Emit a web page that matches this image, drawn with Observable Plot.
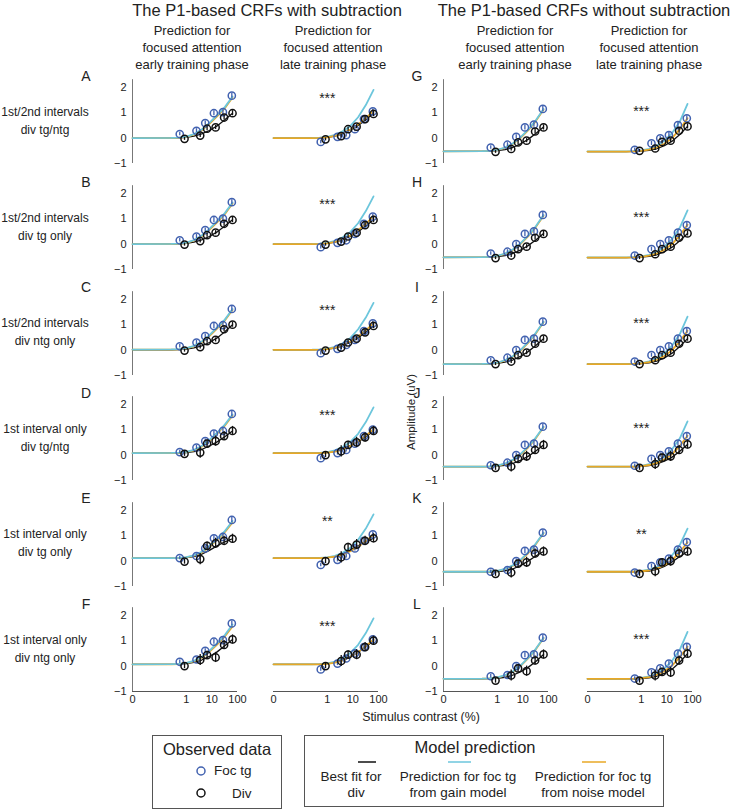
<!DOCTYPE html>
<html><head><meta charset="utf-8">
<script src="https://cdn.jsdelivr.net/npm/d3@7"></script>
<script src="https://cdn.jsdelivr.net/npm/@observablehq/plot@0.6"></script>
<style>
body{margin:0;background:#fff;}
#fig{position:relative;width:730px;height:810px;background:#fff;font-family:"Liberation Sans",Arial,sans-serif;overflow:hidden;}
</style></head><body><div id="fig"></div>
<script>
// ---------- data ----------
const rowLabels = [
  ["1st/2nd intervals","div tg/ntg"],
  ["1st/2nd intervals","div tg only"],
  ["1st/2nd intervals","div ntg only"],
  ["1st interval only","div tg/ntg"],
  ["1st interval only","div tg only"],
  ["1st interval only","div ntg only"]
];
const lettersLeft = ["A","B","C","D","E","F"];
const lettersRight = ["G","H","I","J","K","L"];
const groupTitles = ["The P1-based CRFs with subtraction","The P1-based CRFs without subtraction"];
const colHeaders = [
  ["Prediction for","focused attention","early training phase"],
  ["Prediction for","focused attention","late training phase"],
  ["Prediction for","focused attention","early training phase"],
  ["Prediction for","focused attention","late training phase"]
];
const xTicks = [0, 1, 10, 100];
const yTicks = [-1, 0, 1, 2];

// stimulus contrasts (%) of observed points (foc tg drawn slightly left of div)
const cFoc = [0.55, 2.5, 5.5, 12, 27, 60];
const cDiv = [0.85, 3.5, 6.5, 14, 30, 64];
// contrasts at which model curves are read
const cCurve = [0, 0.25, 0.5, 1, 2, 4, 8, 16, 32, 64];

// error bar half-lengths
const errFoc = [0.07, 0.08, 0.08, 0.1, 0.1, 0.1];
const errDivSmall = [0.06, 0.08, 0.08, 0.08, 0.1, 0.1];
const errDivLarge = [0.1, 0.22, 0.15, 0.2, 0.18, 0.18];

// ---- with subtraction, early ----
const focSubEarly = [
  [0.16, 0.29, 0.59, 0.98, 1.02, 1.67],
  [0.15, 0.30, 0.55, 0.95, 1.00, 1.65],
  [0.15, 0.30, 0.55, 0.95, 0.98, 1.62],
  [0.12, 0.30, 0.55, 0.85, 0.95, 1.62],
  [0.12, 0.20, 0.50, 0.90, 0.95, 1.62],
  [0.17, 0.26, 0.60, 0.96, 1.02, 1.68]
];
const divSubEarly = [
  [-0.03, 0.10, 0.37, 0.42, 0.81, 0.98],
  [-0.02, 0.12, 0.35, 0.45, 0.80, 0.95],
  [-0.02, 0.12, 0.35, 0.40, 0.82, 1.00],
  [0.05, 0.10, 0.45, 0.55, 0.75, 0.95],
  [-0.02, 0.08, 0.60, 0.70, 0.80, 0.88],
  [0.00, 0.24, 0.43, 0.34, 0.83, 1.05]
];
const gainSubEarly = [
  [0.00, 0.01, 0.02, 0.06, 0.16, 0.34, 0.60, 0.90, 1.22, 1.64],
  [0.00, 0.01, 0.02, 0.06, 0.16, 0.34, 0.60, 0.90, 1.22, 1.64],
  [0.02, 0.03, 0.04, 0.08, 0.17, 0.34, 0.59, 0.89, 1.20, 1.62],
  [0.08, 0.09, 0.10, 0.13, 0.21, 0.36, 0.60, 0.88, 1.20, 1.60],
  [0.12, 0.12, 0.13, 0.16, 0.23, 0.37, 0.60, 0.88, 1.18, 1.58],
  [0.07, 0.08, 0.09, 0.13, 0.21, 0.36, 0.60, 0.90, 1.22, 1.64]
];
const noiseSubEarly = [
  [0.00, 0.00, 0.01, 0.05, 0.14, 0.31, 0.56, 0.86, 1.18, 1.60],
  [0.00, 0.00, 0.01, 0.05, 0.14, 0.31, 0.56, 0.86, 1.18, 1.60],
  [0.02, 0.02, 0.03, 0.07, 0.15, 0.31, 0.55, 0.85, 1.17, 1.58],
  [0.08, 0.08, 0.09, 0.12, 0.19, 0.33, 0.56, 0.85, 1.16, 1.56],
  [0.12, 0.12, 0.12, 0.15, 0.21, 0.34, 0.56, 0.84, 1.14, 1.52],
  [0.07, 0.07, 0.08, 0.12, 0.19, 0.33, 0.56, 0.85, 1.17, 1.56]
];
const fitSubEarly = [
  [0.00, 0.00, 0.01, 0.03, 0.08, 0.17, 0.30, 0.48, 0.72, 0.98],
  [0.00, 0.00, 0.01, 0.03, 0.08, 0.17, 0.30, 0.48, 0.71, 0.96],
  [0.01, 0.01, 0.02, 0.04, 0.09, 0.17, 0.30, 0.48, 0.72, 1.00],
  [0.08, 0.08, 0.09, 0.10, 0.14, 0.22, 0.36, 0.52, 0.72, 0.95],
  [0.12, 0.12, 0.12, 0.14, 0.18, 0.27, 0.42, 0.60, 0.76, 0.88],
  [0.07, 0.07, 0.08, 0.10, 0.15, 0.24, 0.38, 0.56, 0.80, 1.05]
];

// ---- with subtraction, late ----
const focSubLate = [
  [-0.15, 0.05, 0.12, 0.35, 0.75, 1.05],
  [-0.12, 0.05, 0.15, 0.40, 0.80, 1.08],
  [-0.12, 0.05, 0.20, 0.40, 0.75, 1.05],
  [-0.12, 0.08, 0.20, 0.45, 0.75, 1.00],
  [-0.15, 0.05, 0.20, 0.50, 0.80, 1.05],
  [-0.13, 0.10, 0.30, 0.50, 0.75, 1.05]
];
const divSubLate = [
  [-0.05, 0.08, 0.35, 0.45, 0.75, 0.95],
  [-0.02, 0.10, 0.30, 0.45, 0.75, 0.95],
  [-0.02, 0.10, 0.30, 0.45, 0.70, 0.95],
  [0.00, 0.15, 0.40, 0.50, 0.70, 0.95],
  [0.00, 0.15, 0.55, 0.65, 0.80, 0.90],
  [0.00, 0.20, 0.45, 0.45, 0.75, 1.00]
];
const gainSubLate = [
  [0.00, 0.01, 0.02, 0.05, 0.13, 0.27, 0.48, 0.82, 1.30, 1.90],
  [0.00, 0.01, 0.02, 0.05, 0.13, 0.27, 0.48, 0.82, 1.30, 1.88],
  [0.01, 0.02, 0.03, 0.06, 0.13, 0.27, 0.48, 0.82, 1.28, 1.86],
  [0.08, 0.08, 0.09, 0.12, 0.19, 0.32, 0.52, 0.84, 1.30, 1.88],
  [0.12, 0.12, 0.13, 0.15, 0.21, 0.33, 0.53, 0.84, 1.28, 1.84],
  [0.07, 0.07, 0.08, 0.11, 0.18, 0.31, 0.52, 0.84, 1.30, 1.88]
];
const noiseSubLate = [
  [0.00, 0.00, 0.01, 0.03, 0.09, 0.19, 0.34, 0.54, 0.78, 1.08],
  [0.00, 0.00, 0.01, 0.03, 0.09, 0.19, 0.34, 0.55, 0.80, 1.10],
  [0.01, 0.01, 0.02, 0.04, 0.10, 0.19, 0.34, 0.54, 0.78, 1.06],
  [0.08, 0.08, 0.08, 0.10, 0.14, 0.22, 0.36, 0.54, 0.76, 1.02],
  [0.12, 0.12, 0.12, 0.14, 0.18, 0.26, 0.39, 0.56, 0.78, 1.04],
  [0.07, 0.07, 0.07, 0.09, 0.14, 0.22, 0.36, 0.55, 0.78, 1.05]
];
const fitSubLate = [
  [0.00, 0.00, 0.01, 0.03, 0.08, 0.17, 0.32, 0.50, 0.72, 0.98],
  [0.00, 0.00, 0.01, 0.03, 0.08, 0.17, 0.31, 0.49, 0.71, 0.96],
  [0.01, 0.01, 0.02, 0.04, 0.08, 0.17, 0.31, 0.49, 0.70, 0.96],
  [0.08, 0.08, 0.08, 0.10, 0.15, 0.24, 0.37, 0.52, 0.72, 0.95],
  [0.12, 0.12, 0.12, 0.14, 0.19, 0.29, 0.44, 0.60, 0.76, 0.90],
  [0.07, 0.07, 0.08, 0.10, 0.15, 0.25, 0.38, 0.55, 0.76, 1.00]
];

// ---- without subtraction, early ----
const focNoSubEarly = [
  [-0.37, -0.26, 0.05, 0.42, 0.53, 1.15],
  [-0.37, -0.30, 0.00, 0.40, 0.50, 1.15],
  [-0.40, -0.30, 0.00, 0.40, 0.45, 1.12],
  [-0.40, -0.30, 0.00, 0.40, 0.45, 1.12],
  [-0.42, -0.35, 0.00, 0.40, 0.45, 1.12],
  [-0.40, -0.35, 0.00, 0.43, 0.46, 1.12]
];
const divNoSubEarly = [
  [-0.54, -0.43, -0.17, -0.10, 0.26, 0.42],
  [-0.55, -0.45, -0.20, -0.10, 0.25, 0.40],
  [-0.55, -0.45, -0.20, -0.10, 0.25, 0.45],
  [-0.50, -0.45, -0.15, -0.05, 0.20, 0.40],
  [-0.50, -0.45, -0.10, -0.05, 0.30, 0.38],
  [-0.57, -0.37, -0.09, -0.20, 0.22, 0.46]
];
const gainNoSubEarly = [
  [-0.52, -0.51, -0.50, -0.46, -0.37, -0.21, 0.03, 0.33, 0.70, 1.15],
  [-0.52, -0.51, -0.50, -0.46, -0.37, -0.21, 0.03, 0.33, 0.70, 1.15],
  [-0.55, -0.54, -0.53, -0.49, -0.40, -0.24, 0.00, 0.31, 0.68, 1.12],
  [-0.45, -0.45, -0.44, -0.41, -0.33, -0.19, 0.04, 0.33, 0.69, 1.12],
  [-0.42, -0.42, -0.41, -0.38, -0.31, -0.17, 0.05, 0.34, 0.69, 1.12],
  [-0.50, -0.49, -0.48, -0.44, -0.36, -0.21, 0.02, 0.32, 0.68, 1.12]
];
const noiseNoSubEarly = [
  [-0.52, -0.51, -0.50, -0.47, -0.38, -0.23, 0.00, 0.30, 0.67, 1.12],
  [-0.52, -0.51, -0.50, -0.47, -0.38, -0.23, 0.00, 0.30, 0.67, 1.12],
  [-0.55, -0.54, -0.53, -0.50, -0.41, -0.26, -0.03, 0.28, 0.65, 1.10],
  [-0.45, -0.45, -0.44, -0.42, -0.35, -0.21, 0.01, 0.30, 0.66, 1.10],
  [-0.42, -0.42, -0.41, -0.39, -0.32, -0.19, 0.02, 0.31, 0.66, 1.10],
  [-0.50, -0.49, -0.48, -0.45, -0.37, -0.23, 0.00, 0.30, 0.66, 1.10]
];
const fitNoSubEarly = [
  [-0.52, -0.52, -0.51, -0.49, -0.45, -0.37, -0.23, -0.05, 0.18, 0.44],
  [-0.52, -0.52, -0.51, -0.49, -0.45, -0.37, -0.24, -0.06, 0.16, 0.42],
  [-0.55, -0.55, -0.54, -0.52, -0.47, -0.39, -0.25, -0.06, 0.18, 0.45],
  [-0.45, -0.45, -0.45, -0.43, -0.40, -0.33, -0.21, -0.05, 0.16, 0.40],
  [-0.42, -0.42, -0.42, -0.41, -0.38, -0.31, -0.18, 0.00, 0.20, 0.38],
  [-0.50, -0.50, -0.49, -0.48, -0.44, -0.36, -0.23, -0.05, 0.18, 0.46]
];

// ---- without subtraction, late ----
const focNoSubLate = [
  [-0.46, -0.21, -0.01, 0.12, 0.51, 0.78],
  [-0.45, -0.20, 0.00, 0.15, 0.45, 0.75],
  [-0.45, -0.20, 0.00, 0.15, 0.45, 0.75],
  [-0.42, -0.15, 0.00, 0.15, 0.45, 0.75],
  [-0.45, -0.20, -0.05, 0.10, 0.45, 0.75],
  [-0.49, -0.25, -0.09, 0.10, 0.49, 0.76]
];
const divNoSubLate = [
  [-0.50, -0.41, -0.15, -0.10, 0.29, 0.46],
  [-0.55, -0.40, -0.20, -0.10, 0.25, 0.42],
  [-0.55, -0.40, -0.20, -0.10, 0.25, 0.45],
  [-0.50, -0.35, -0.10, -0.05, 0.20, 0.42],
  [-0.50, -0.40, -0.05, 0.00, 0.30, 0.38],
  [-0.57, -0.37, -0.23, -0.25, 0.22, 0.49]
];
const gainNoSubLate = [
  [-0.52, -0.52, -0.51, -0.48, -0.42, -0.30, -0.10, 0.20, 0.65, 1.35],
  [-0.52, -0.52, -0.51, -0.48, -0.42, -0.30, -0.10, 0.20, 0.65, 1.33],
  [-0.55, -0.55, -0.54, -0.51, -0.44, -0.32, -0.12, 0.18, 0.63, 1.32],
  [-0.45, -0.45, -0.44, -0.42, -0.36, -0.25, -0.06, 0.23, 0.66, 1.33],
  [-0.42, -0.42, -0.41, -0.39, -0.34, -0.23, -0.05, 0.23, 0.64, 1.28],
  [-0.50, -0.50, -0.49, -0.46, -0.40, -0.29, -0.09, 0.21, 0.65, 1.35]
];
const noiseNoSubLate = [
  [-0.53, -0.53, -0.52, -0.50, -0.45, -0.37, -0.22, 0.00, 0.35, 0.78],
  [-0.53, -0.53, -0.52, -0.50, -0.45, -0.37, -0.22, 0.00, 0.34, 0.76],
  [-0.55, -0.55, -0.54, -0.52, -0.47, -0.38, -0.23, 0.00, 0.34, 0.76],
  [-0.45, -0.45, -0.45, -0.43, -0.39, -0.31, -0.17, 0.04, 0.36, 0.76],
  [-0.42, -0.42, -0.42, -0.40, -0.37, -0.29, -0.16, 0.04, 0.35, 0.74],
  [-0.50, -0.50, -0.49, -0.47, -0.43, -0.34, -0.20, 0.02, 0.35, 0.76]
];
const fitNoSubLate = [
  [-0.53, -0.53, -0.52, -0.51, -0.48, -0.42, -0.30, -0.12, 0.14, 0.46],
  [-0.53, -0.53, -0.52, -0.51, -0.48, -0.42, -0.30, -0.12, 0.13, 0.42],
  [-0.55, -0.55, -0.54, -0.53, -0.50, -0.43, -0.31, -0.12, 0.14, 0.45],
  [-0.45, -0.45, -0.45, -0.44, -0.41, -0.35, -0.24, -0.08, 0.15, 0.42],
  [-0.42, -0.42, -0.42, -0.41, -0.39, -0.33, -0.21, -0.03, 0.18, 0.38],
  [-0.50, -0.50, -0.50, -0.49, -0.46, -0.40, -0.29, -0.12, 0.15, 0.49]
];

const starsLate = ["***","***","***","***","**","***"];
const starsNoSubLate = ["***","***","***","***","**","***"];

// ---------- style ----------
const BLUE = "#4262b0", CYAN = "#6cc6dc", ORANGE = "#e8a826", BLACK = "#111";
const FONT = '"Liberation Sans", Arial, sans-serif';

const columns = [
  {x0:132, foc:focSubEarly, div:divSubEarly, gain:gainSubEarly, noise:noiseSubEarly, fit:fitSubEarly, yAxis:true, stars:null, orangeTop:false},
  {x0:273, foc:focSubLate, div:divSubLate, gain:gainSubLate, noise:noiseSubLate, fit:fitSubLate, yAxis:false, stars:starsLate, starY:1.55, orangeTop:true},
  {x0:443, foc:focNoSubEarly, div:divNoSubEarly, gain:gainNoSubEarly, noise:noiseNoSubEarly, fit:fitNoSubEarly, yAxis:true, stars:null, orangeTop:false},
  {x0:587, foc:focNoSubLate, div:divNoSubLate, gain:gainNoSubLate, noise:noiseNoSubLate, fit:fitNoSubLate, yAxis:false, stars:starsNoSubLate, starY:1.05, orangeTop:true}
];

const fig = document.getElementById("fig");
const Y0 = 138, ROW = 105.6, PXU = 25.4;
const ML = 30, XW = 105, YB = 88;

// overlay for text
const ns = "http://www.w3.org/2000/svg";
const over = document.createElementNS(ns, "svg");
over.setAttribute("width", 730); over.setAttribute("height", 810);
over.style.position = "absolute"; over.style.left = "0"; over.style.top = "0";
over.style.fontFamily = FONT;
fig.appendChild(over);
function txt(x, y, s, size, anchor="middle", rot=0, fill="#222") {
  const t = document.createElementNS(ns, "text");
  t.setAttribute("x", 0); t.setAttribute("y", 0);
  t.setAttribute("transform", `translate(${x},${y}) rotate(${rot})`);
  t.setAttribute("text-anchor", anchor);
  t.setAttribute("dominant-baseline", "central");
  t.setAttribute("font-size", size);
  t.setAttribute("fill", fill);
  t.textContent = s;
  over.appendChild(t);
}
function el(tag, attrs) {
  const e = document.createElementNS(ns, tag);
  for (const k in attrs) e.setAttribute(k, attrs[k]);
  over.appendChild(e);
}

// titles & headers
txt(267, 10, groupTitles[0], 16.5);
txt(584, 10, groupTitles[1], 16.5);
const hx = [192, 333, 515, 649];
colHeaders.forEach((lines, j) => lines.forEach((s, k) => txt(hx[j], 30 + 17*k, s, 13)));

for (let r = 0; r < 6; r++) {
  const y0 = Y0 + ROW*r;
  txt(86, y0 - 62, lettersLeft[r], 14);
  txt(417, y0 - 62, lettersRight[r], 14);
  txt(45, y0 - 26, rowLabels[r][0], 12);
  txt(45, y0 - 8, rowLabels[r][1], 12);
}
txt(411, 412, "Amplitude (uV)", 11.5, "middle", -90);
txt(421, 717, "Stimulus contrast (%)", 12.4);

// legend
el("rect", {x:152.5, y:735.5, width:129, height:73, fill:"none", stroke:"#555", "stroke-width":1});
el("rect", {x:304.5, y:735.5, width:359, height:71, fill:"none", stroke:"#555", "stroke-width":1});
txt(217, 749, "Observed data", 16.5);
el("circle", {cx:201, cy:771, r:4, fill:"none", stroke:BLUE, "stroke-width":1.5});
txt(214, 770, "Foc tg", 13.5, "start");
el("circle", {cx:201, cy:793, r:4, fill:"none", stroke:BLACK, "stroke-width":1.5});
txt(232, 793, "Div", 13.5, "start");
txt(475, 747, "Model prediction", 16.5);
el("line", {x1:358, x2:376, y1:762, y2:762, stroke:BLACK, "stroke-width":1.5});
el("line", {x1:448, x2:471, y1:762, y2:762, stroke:CYAN, "stroke-width":1.5});
el("line", {x1:582, x2:606, y1:762, y2:762, stroke:ORANGE, "stroke-width":1.5});
txt(351, 776, "Best fit for", 13.5); txt(356, 792, "div", 13.5);
txt(458, 776, "Prediction for foc tg", 13.5); txt(458, 792, "from gain model", 13.5);
txt(593, 776, "Prediction for foc tg", 13.5); txt(593, 792, "from noise model", 13.5);

// panels
const ymax = 2.3;
for (let r = 0; r < 6; r++) {
  const y0 = Y0 + ROW*r;
  columns.forEach((col) => {
    const foc = col.foc[r], div = col.div[r];
    const errDiv = r >= 3 ? errDivLarge : errDivSmall;
    const marks = [];
    if (col.yAxis) {
      marks.push(Plot.ruleX([0], {y1: () => -1, y2: () => ymax, stroke: "#777", strokeWidth: 1}));
      marks.push(Plot.axisY({ticks: yTicks, tickSize: 0, tickPadding: 6, fontSize: 11, fill: "#222",
        tickFormat: d => d < 0 ? "\u2212" + Math.abs(d) : String(d)}));
    }
    if (r === 5) {
      marks.push(Plot.ruleY([-1], {x1: () => 0, x2: () => 100, stroke: "#555", strokeWidth: 1}));
      marks.push(Plot.axisX({ticks: xTicks, tickSize: 0, tickPadding: 4, fontSize: 11, fill: "#222",
        tickFormat: d => String(d)}));
    }
    const fitL = Plot.line(col.fit[r], {x: (d,i) => cCurve[i], y: d => d, stroke: BLACK, strokeWidth: 1.3});
    const gainL = Plot.line(col.gain[r], {x: (d,i) => cCurve[i], y: d => d, stroke: CYAN, strokeWidth: 1.8});
    const noiseL = Plot.line(col.noise[r], {x: (d,i) => cCurve[i], y: d => d, stroke: ORANGE, strokeWidth: 1.8});
    marks.push(fitL);
    if (col.orangeTop) marks.push(gainL, noiseL); else marks.push(noiseL, gainL);
    marks.push(Plot.ruleX(foc, {x: (d,i) => cFoc[i], y1: (d,i) => d - errFoc[i], y2: (d,i) => d + errFoc[i], stroke: BLUE, strokeWidth: 1.3}));
    marks.push(Plot.dot(foc, {x: (d,i) => cFoc[i], y: d => d, r: 3.6, stroke: BLUE, strokeWidth: 1.5, fill: "none"}));
    marks.push(Plot.ruleX(div, {x: (d,i) => cDiv[i], y1: (d,i) => d - errDiv[i], y2: (d,i) => d + errDiv[i], stroke: BLACK, strokeWidth: 1.3}));
    marks.push(Plot.dot(div, {x: (d,i) => cDiv[i], y: d => d, r: 3.6, stroke: BLACK, strokeWidth: 1.5, fill: "none"}));
    if (col.stars) {
      marks.push(Plot.text([col.stars[r]], {x: () => 1, y: () => col.starY, text: d => d, fontSize: 14, fill: "#222"}));
    }
    const p = Plot.plot({
      width: ML + XW + 25, height: YB + 22,
      marginLeft: ML, marginRight: 25, marginTop: 0, marginBottom: 22,
      x: {type: "symlog", constant: 0.008, domain: [0, 100], range: [ML, ML + XW], axis: (r === 5) ? undefined : null},
      y: {type: "linear", domain: [-1, ymax], range: [YB, YB - PXU*(ymax + 1)], axis: col.yAxis ? undefined : null},
      style: {background: "transparent", overflow: "visible", fontFamily: FONT, fontSize: "11px", color: "#222"},
      marks
    });
    p.style.position = "absolute";
    p.style.left = (col.x0 - ML) + "px";
    p.style.top = (y0 + PXU - YB) + "px";
    p.style.maxWidth = "none";
    fig.appendChild(p);
  });
}
</script></body></html>
